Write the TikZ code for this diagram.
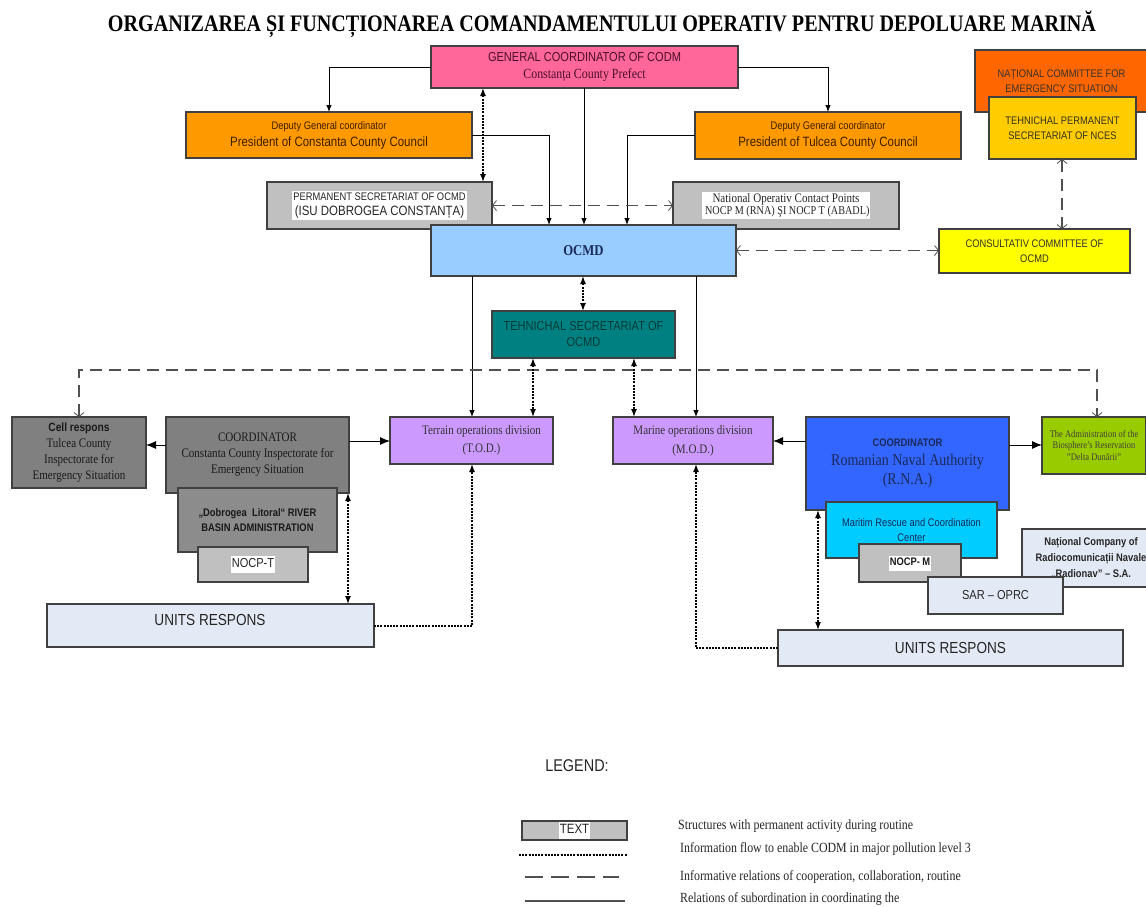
\documentclass[tikz,border=0pt]{standalone}
\usepackage{fontspec}
\usepackage{graphicx}
\setmainfont{Liberation Serif}[FakeStretch=0.85]
\setsansfont{Liberation Sans}[FakeStretch=0.85]
\usetikzlibrary{arrows.meta}

\definecolor{cPink}{HTML}{FF6699}
\definecolor{cPinkTxt}{HTML}{4A1028}
\definecolor{cOrange}{HTML}{FF9900}
\definecolor{cOrTxt}{HTML}{3D1F00}
\definecolor{cRedOr}{HTML}{FF6600}
\definecolor{cGold}{HTML}{FFCC00}
\definecolor{cGray}{HTML}{C0C0C0}
\definecolor{cLBlue}{HTML}{99CCFF}
\definecolor{cNavy}{HTML}{1A2A5A}
\definecolor{cYellow}{HTML}{FFFF00}
\definecolor{cTeal}{HTML}{008080}
\definecolor{cTealTxt}{HTML}{0A3A3A}
\definecolor{cDGray}{HTML}{808080}
\definecolor{cMGray}{HTML}{8C8C8C}
\definecolor{cPurple}{HTML}{CC99FF}
\definecolor{cBlue}{HTML}{3366FF}
\definecolor{cCyan}{HTML}{00CCFF}
\definecolor{cPale}{HTML}{E4EAF5}
\definecolor{cLime}{HTML}{99CC00}
\definecolor{boxline}{HTML}{404040}
\definecolor{dashgray}{HTML}{505050}

\newcommand{\fs}[2]{\fontsize{#1}{#2}\selectfont}
\newcommand{\wbox}[1]{{\setlength{\fboxsep}{1pt}\colorbox{white}{\begin{tabular}{@{}c@{}}#1\end{tabular}}}}

\tikzset{
  box/.style={draw=boxline, line width=1.1pt, anchor=north west, inner sep=0pt, outer sep=0pt, align=center},
  wh/.style 2 args={minimum width=#1, minimum height=#2},
  sub/.style={line width=0.9pt, -{Latex[length=7pt,width=5.5pt]}},
  subbig/.style={line width=1pt, -{Latex[length=10pt,width=8pt]}},
  flow/.style={line width=1.4pt, dash pattern=on 2pt off 1.2pt},
  flowboth/.style={flow, {Latex[length=8pt,width=6pt]}-{Latex[length=8pt,width=6pt]}},
  flowone/.style={flow, -{Latex[length=8pt,width=6pt]}},
  coop/.style={line width=1.2pt, draw=dashgray, dash pattern=on 12pt off 7pt,
    {Straight Barb[length=4pt,width=10pt,line width=0.8pt]}-{Straight Barb[length=4pt,width=10pt,line width=0.8pt]}},
  legtext/.style={anchor=west, inner sep=0pt, font=\rmfamily\fs{14}{16}, text=black!85}
}

\begin{document}
\begin{tikzpicture}[x=1pt,y=-1pt]
\useasboundingbox[fill=white] (0,0) rectangle (1146,906);

% title
\node (title) at (602,24) {\resizebox{988pt}{!}{\rmfamily\bfseries\fs{20}{22}ORGANIZAREA ȘI FUNCȚIONAREA COMANDAMENTULUI OPERATIV PENTRU DEPOLUARE MARINĂ}};

% upper level
\node[box, wh={307}{42}, fill=cPink, text=cPinkTxt, font=\sffamily\fs{13}{17}] (gc) at (431,46)
  {GENERAL COORDINATOR OF CODM\\{\rmfamily\fs{14}{17}Constanța County Prefect}};
\node[box, wh={286}{46}, fill=cOrange, text=cOrTxt, font=\sffamily\fs{13.5}{17}] (depL) at (186,112)
  {{\fs{11}{17}Deputy General coordinator}\\President of Constanta County Council};
\node[box, wh={266}{47}, fill=cOrange, text=cOrTxt, font=\sffamily\fs{13.5}{17}] (depR) at (695,112)
  {{\fs{11}{17}Deputy General coordinator}\\President of Tulcea County Council};
\node[box, wh={173}{62}, fill=cRedOr, text=black!80, font=\sffamily\fs{11}{15}] (nces) at (975,50)
  {NAȚIONAL COMMITTEE FOR\\EMERGENCY SITUATION};
\node[box, wh={147}{62}, fill=cGold, text=black!80, font=\sffamily\fs{11}{15}] (tps) at (989,97)
  {TEHNICHAL PERMANENT\\SECRETARIAT OF NCES};

\node[box, wh={225}{47}, fill=cGray, text=black!85, font=\sffamily] (perm) at (267,182)
  {\wbox{\fs{11}{13}PERMANENT SECRETARIAT OF OCMD\\[1pt]\fs{13.5}{15}(ISU DOBROGEA CONSTANȚA)}};
\node[box, wh={226}{47}, fill=cGray, text=black!85, font=\rmfamily] (nocp) at (673,182)
  {\wbox{\fs{13}{15}National Operativ Contact Points\\[0pt]\fs{12}{14}\ NOCP M (RNA) ŞI NOCP T (ABADL)}};

\node[box, wh={305}{51}, fill=cLBlue, text=cNavy, font=\rmfamily\bfseries\fs{15}{17}] (ocmd) at (431,225)
  {OCMD};
\node[box, wh={191}{44}, fill=cYellow, text=black!80, font=\sffamily\fs{11}{15}] (cons) at (939,229)
  {CONSULTATIV COMMITTEE OF\\OCMD};
\node[box, wh={183}{47}, fill=cTeal, text=cTealTxt, font=\sffamily\fs{13}{16}] (tsec) at (492,311)
  {TEHNICHAL SECRETARIAT OF\\OCMD};

% left branch
\node[box, wh={134}{71}, fill=cDGray, text=black!90, font=\rmfamily\fs{13}{15.7}] (cell) at (12,417)
  {{\sffamily\bfseries\fs{12}{15.7}Cell respons}\\Tulcea County\\Inspectorate for\\Emergency Situation};
\node[box, wh={183}{76}, fill=cDGray, text=black!90, font=\rmfamily\fs{13}{16}] (coord) at (166,417)
  {COORDINATOR\\Constanta County Inspectorate for\\Emergency Situation};
\node[box, wh={159}{64}, fill=cMGray, text=black!90, font=\sffamily\bfseries\fs{11}{15}] (dob) at (178,488)
  {„Dobrogea\ \ Litoral“ RIVER\\BASIN ADMINISTRATION};
\node[box, wh={110}{35}, fill=cGray, text=black!85, font=\sffamily\fs{13}{15}] (nocpt) at (198,547)
  {\wbox{NOCP-T}};

\node[box, wh={163}{47}, fill=cPurple, text=black!80, font=\rmfamily\fs{13}{18}] (tod) at (390,417)
  {\hspace*{20pt}Terrain operations division\\\hspace*{20pt}(T.O.D.)};
\node[box, wh={160}{47}, fill=cPurple, text=black!80, font=\rmfamily\fs{13}{19}] (mod) at (613,417)
  {Marine operations division\\(M.O.D.)};

% right branch
\node[box, wh={203}{93}, fill=cBlue, text=cNavy, font=\rmfamily\fs{16.5}{19}] (rna) at (806,417)
  {{\sffamily\bfseries\fs{11}{19}COORDINATOR}\\Romanian Naval Authority\\(R.N.A.)};
\node[box, wh={171}{56}, fill=cCyan, text=cNavy, font=\sffamily\fs{11}{15}] (mrcc) at (826,502)
  {Maritim Rescue and Coordination\\Center};
\node[box, wh={102}{38}, fill=cGray, text=black!90, font=\sffamily\bfseries\fs{11}{13}] (nocpm) at (859,544)
  {\wbox{NOCP- M}};
\node[box, wh={130}{58}, fill=cPale, text=black!85, font=\sffamily\bfseries\fs{11}{16}] (radio) at (1022,529)
  {\hspace*{8pt}Național Company of\\\hspace*{8pt}Radiocomunicații Navale\\\hspace*{8pt}„Radionav” – S.A.};
\node[box, wh={135}{37}, fill=cPale, text=black!85, font=\sffamily\fs{13}{15}] (sar) at (928,577)
  {SAR – OPRC};
\node[box, wh={104}{57}, fill=cLime, text=black!75, font=\rmfamily\fs{10}{11.5}] (bio) at (1042,417)
  {The Administration of the\\Biosphere's Reservation\\"Delta Dunării"};

% response units
\node[box, wh={327}{43}, fill=cPale] (unitsL) at (47,604) {};
\node[font=\sffamily\fs{16}{18}, text=black!85, inner sep=0pt] (unitsLtxt) at (210,620) {UNITS RESPONS};
\node[box, wh={345}{36}, fill=cPale, text=black!85, font=\sffamily\fs{16}{18}] (unitsR) at (778,630)
  {UNITS RESPONS};

% subordination (solid)
\draw[sub] (gc.west) -| (depL.north);
\draw[sub] (gc.east) -| (depR.north);
\draw[sub] (584,0 |- gc.south) -- (584,0 |- ocmd.north);
\draw[sub] (depL.east) -| (549,0 |- ocmd.north);
\draw[sub] (depR.west) -| (627,0 |- ocmd.north);
\draw[sub] (472,0 |- ocmd.south) -- (472,0 |- tod.north);
\draw[sub] (696,0 |- ocmd.south) -- (696,0 |- mod.north);
\draw[subbig] (0,445 -| coord.west) -- (0,445 -| cell.east);
\draw[subbig] (0,441 -| coord.east) -- (0,441 -| tod.west);
\draw[subbig] (0,441 -| rna.west) -- (0,441 -| mod.east);
\draw[subbig] (0,445 -| rna.east) -- (0,445 -| bio.west);

% cooperation (dashed)
\draw[coop] (perm.east) -- (perm.east -| nocp.west);
\draw[coop] (ocmd.east) -- (ocmd.east -| cons.west);
\draw[coop] (1062,0 |- tps.south) -- (1062,0 |- cons.north);
\coordinate (busL) at (79,370);
\coordinate (busR) at (1097,370);
\draw[coop] (79,0 |- cell.north) -- (busL) -- (busR) -- (1097,0 |- bio.north);

% information flow (dotted)
\draw[flowboth] (483,0 |- gc.south) -- (483,0 |- perm.north);
\draw[flowboth] (583,0 |- ocmd.south) -- (583,0 |- tsec.north);
\draw[flowboth] (533,0 |- tsec.south) -- (533,0 |- tod.north);
\draw[flowboth] (634,0 |- tsec.south) -- (634,0 |- mod.north);
\draw[flowboth] (348,0 |- coord.south) -- (348,0 |- unitsL.north);
\draw[flowone] (0,626 -| unitsL.east) -| (472,0 |- tod.south);
\draw[flowboth] (818,0 |- rna.south) -- (818,0 |- unitsR.north);
\draw[flowone] (0,648 -| unitsR.west) -| (696,0 |- mod.south);

% legend
\node[font=\sffamily\fs{17}{19}, text=black!85] (legtitle) at (577,766) {LEGEND:};
\node[box, wh={105}{19}, fill=cGray, text=black!85, font=\sffamily\fs{13.5}{15}] (legbox) at (522,821)
  {\wbox{TEXT}};
\coordinate (l1a) at (519,855); \coordinate (l1b) at (627,855);
\coordinate (l2a) at (525,877); \coordinate (l2b) at (619,877);
\coordinate (l3a) at (525,901); \coordinate (l3b) at (625,901);
\draw[flow] (l1a) -- (l1b);
\draw[line width=1.2pt, draw=dashgray, dash pattern=on 18pt off 8pt] (l2a) -- (l2b);
\draw[line width=1.2pt, draw=dashgray] (l3a) -- (l3b);
\node[legtext] (leg1) at (678,826) {Structures with permanent activity during routine};
\node[legtext] (leg2) at (680,849) {Information flow to enable CODM in major pollution level 3};
\node[legtext] (leg3) at (680,877) {Informative relations of cooperation, collaboration, routine};
\node[legtext] (leg4) at (680,899) {Relations of subordination in coordinating the};
\end{tikzpicture}
\end{document}
